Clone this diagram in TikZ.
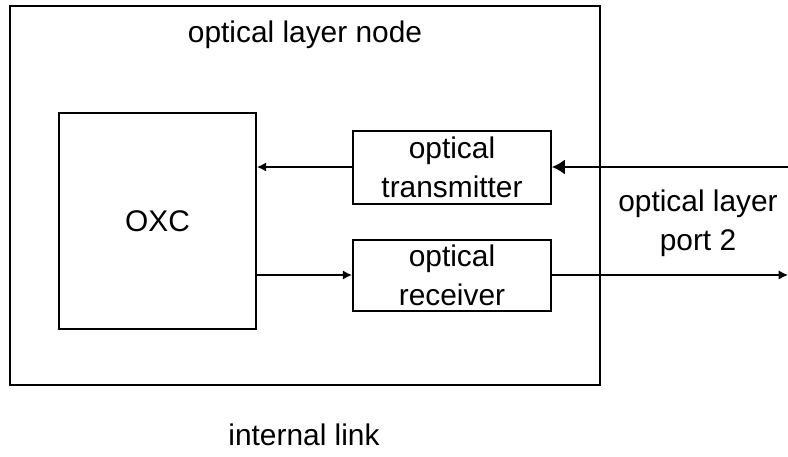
\documentclass[tikz,border=0pt]{standalone}
\usepackage{fontspec}
\setmainfont{Liberation Sans}
\usepackage{tikz}
\usetikzlibrary{arrows.meta, positioning, calc}

\begin{document}
\begin{tikzpicture}[x=0.03cm, y=-0.03cm,
    font=\fontsize{25.5}{33.5}\selectfont,
    blk/.style={draw, line width=1.5pt, inner sep=0pt, align=center},
    arr/.style={line width=1.4pt, -{Latex[length=0.28cm, width=0.28cm]}},
    bigarr/.style={line width=1.4pt, -{Latex[length=0.39cm, width=0.45cm]}}]
        \useasboundingbox (0,0) rectangle (788,457);
        % Outer node frame and its title
        \node[blk, minimum width=17.7cm, minimum height=11.37cm] (olnode) at (305,195.5) {};
        \node (title) at (305,35) {optical layer node};
        % Inner blocks
        \node[blk, minimum width=5.91cm, minimum height=6.48cm] (oxc) at (157.5,221) {OXC};
        \node[blk, minimum width=5.94cm, minimum height=2.19cm] (tx) at (452,167.5)
          {optical\\transmitter};
        \node[blk, minimum width=5.94cm, minimum height=2.13cm] (rx) at (452,275.5)
          {optical\\receiver};
        % Port 2 ends
        \coordinate (pin) at (788,167);
        \coordinate (pout) at (788,275);
        \node[align=center] (port) at (698,223) {optical layer\\port 2};
        % Links
        \draw[bigarr] (pin) -- (tx.east |- pin);
        \draw[arr] (tx.west |- pin) -- (oxc.east |- pin);
        \draw[arr] (oxc.east |- pout) -- (rx.west |- pout);
        \draw[arr] (rx.east |- pout) -- (pout);
        \node (ilink) at (304,435) {internal link};
      \end{tikzpicture}
\end{document}
